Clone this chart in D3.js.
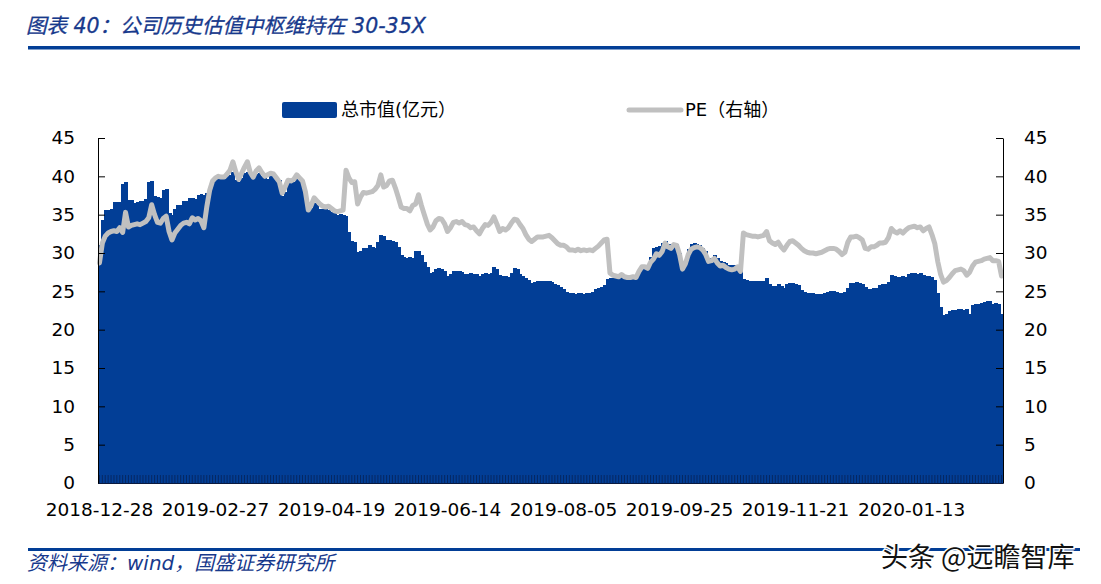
<!DOCTYPE html>
<html><head><meta charset="utf-8">
<script src="https://cdn.jsdelivr.net/npm/d3@7"></script>
<style>body{margin:0;background:#fff}svg{display:block}</style>
</head><body><svg id="c" width="1101" height="584"></svg>
<script>
const tickLabels = ["2018-12-28","2019-02-27","2019-04-19","2019-06-14","2019-08-05","2019-09-25","2019-11-21","2020-01-13"];
const tickEvery = 40;
const yTicks = [0,5,10,15,20,25,30,35,40,45];
const marketCap = [
31.0,34.3,35.6,35.6,35.8,36.6,36.7,36.7,39.0,39.2,
36.9,36.9,36.5,36.6,36.8,36.8,37.0,39.2,39.4,37.5,
37.3,37.2,38.2,38.3,35.2,35.0,35.8,36.2,36.3,36.8,
36.8,37.2,37.2,37.0,37.6,37.7,37.6,37.8,38.6,39.3,
39.5,39.6,39.8,39.7,40.0,40.2,40.6,39.5,39.2,39.8,
40.4,40.6,40.0,39.8,40.3,40.5,40.0,39.8,39.6,40.0,
40.2,39.9,39.5,37.5,38.0,39.0,39.2,39.3,39.8,39.6,
39.4,38.0,35.4,35.9,36.5,36.2,35.8,35.8,35.9,35.6,
35.4,35.2,35.0,35.1,35.0,34.8,32.8,31.6,31.4,30.1,
30.3,30.6,30.7,31.0,30.8,30.7,31.5,32.3,32.2,31.7,
31.7,31.6,31.4,30.8,29.8,29.5,29.4,29.5,29.3,30.2,
30.3,29.8,28.8,28.2,27.4,27.5,27.9,28.0,27.9,27.6,
27.0,27.3,27.6,27.7,27.6,27.5,27.2,27.3,27.4,27.2,
27.3,27.0,27.2,27.4,27.3,27.4,28.2,27.9,27.1,27.0,
27.0,26.9,27.4,28.0,27.9,27.3,27.0,26.8,26.5,26.1,
26.2,26.3,26.3,26.4,26.3,26.3,26.2,25.9,25.8,25.6,
25.3,24.9,24.8,24.8,24.7,24.8,24.8,24.7,24.8,24.8,
24.9,25.3,25.5,25.6,25.8,26.6,26.7,26.7,26.8,26.7,
26.9,27.0,27.0,27.1,27.0,27.2,27.8,28.2,28.3,28.2,
29.5,30.6,30.8,30.9,31.3,31.6,31.2,31.2,31.3,31.2,
30.0,28.5,29.0,30.5,31.2,31.3,31.2,31.1,30.7,30.2,
29.4,29.3,29.7,29.3,28.9,28.8,28.7,28.5,28.4,28.4,
28.5,28.4,26.6,26.5,26.4,26.3,26.4,26.3,26.3,26.4,
26.8,26.0,25.7,25.7,26.0,25.7,25.5,26.0,26.1,26.1,
26.0,25.8,25.2,24.9,24.8,24.8,24.8,24.7,24.7,24.7,
24.8,24.9,25.0,25.0,24.9,24.8,24.8,24.9,25.4,26.1,
26.1,26.2,26.1,26.0,25.6,25.3,25.3,25.4,25.5,25.8,
25.9,26.0,26.2,27.1,27.0,26.9,26.9,27.0,26.9,27.2,
27.4,27.4,27.3,27.4,27.1,27.0,27.0,26.9,26.5,24.8,
23.0,21.9,22.1,22.4,22.6,22.6,22.7,22.7,22.6,22.7,
22.1,23.2,23.3,23.4,23.5,23.6,23.8,23.7,23.4,23.5,23.3,22.0];
const pe = [
28.7,31.3,32.2,32.6,32.8,32.9,32.8,33.3,32.7,35.3,
33.4,33.6,33.7,33.8,33.7,33.9,34.1,34.6,36.3,35.0,
34.0,33.9,34.5,34.8,32.8,31.7,32.6,33.1,33.6,33.9,
34.0,33.8,34.6,34.3,34.5,34.2,33.3,36.0,38.2,39.4,
39.8,40.0,39.9,39.9,40.3,40.8,41.9,40.6,39.6,40.4,
41.2,41.9,40.5,39.9,40.7,41.1,40.5,40.0,40.2,40.4,
40.3,39.8,39.3,37.8,38.6,39.5,39.4,39.6,40.2,39.8,
39.4,38.0,35.6,36.2,37.2,36.8,36.4,36.1,36.0,36.1,
35.8,35.5,35.4,35.5,35.6,40.8,39.8,39.2,39.3,36.4,
37.3,37.9,37.8,37.9,38.0,38.3,38.8,40.2,38.6,38.8,
39.4,39.5,38.5,37.3,36.0,35.8,35.8,35.5,36.2,36.4,
37.6,36.2,35.0,33.8,33.0,33.4,34.2,34.5,34.4,33.8,
32.8,33.3,34.0,34.1,33.9,34.1,33.7,33.6,33.3,33.4,
32.9,32.5,33.2,33.7,33.6,34.0,34.7,33.8,32.8,33.2,
33.0,33.3,33.9,34.4,34.3,33.7,33.2,32.4,31.8,31.5,
31.8,32.1,32.1,32.1,32.2,32.3,32.0,31.6,31.2,31.0,
31.0,30.8,30.4,30.4,30.3,30.5,30.3,30.4,30.3,30.4,
30.3,30.6,30.9,31.3,31.7,31.8,27.4,27.1,27.0,26.9,
27.2,26.9,26.8,26.8,26.9,26.8,27.6,28.2,28.2,28.0,
28.8,29.2,29.9,29.7,30.2,31.3,30.8,30.6,31.1,31.0,
29.8,27.9,28.6,29.8,30.5,30.7,30.8,30.7,30.4,29.8,
28.9,29.0,29.3,28.7,28.3,28.4,28.1,27.9,27.8,27.9,
28.2,27.6,32.6,32.4,32.3,32.2,32.2,32.1,32.2,32.3,
32.8,31.6,31.3,31.1,31.4,30.8,30.4,31.0,31.5,31.6,
31.3,31.0,30.6,30.3,30.1,30.0,30.0,29.9,30.0,30.1,
30.3,30.5,30.6,30.6,30.5,30.2,29.8,30.1,31.4,32.1,
32.1,32.2,32.0,31.7,30.6,30.5,30.8,30.8,31.0,31.3,
31.3,31.4,32.0,33.2,32.8,32.6,32.9,32.6,33.0,33.3,
33.4,33.5,33.3,33.4,32.9,33.2,33.4,32.4,31.2,28.9,
27.2,26.2,26.4,26.8,27.3,27.7,27.8,27.9,27.7,27.1,
27.5,28.3,28.8,28.9,29.0,29.2,29.3,29.4,29.0,29.0,28.9,27.0];

const BLUE = "#023E96";
const GRAY = "#C0C0C0";
const NUMFONT = "'DejaVu Sans', Verdana, sans-serif";
const CJK = "'DejaVu Sans', 'Noto Sans CJK SC', sans-serif";

const svg = d3.select("#c");
const n = marketCap.length;
const L = 98, R = 1003, T = 138, B = 483;
const x = d3.scaleBand().domain(d3.range(n)).range([L, R]).padding(0);
const yL = d3.scaleLinear().domain([0, 45]).range([B, T]);
const yR = d3.scaleLinear().domain([0, 45]).range([B, T]);

// title
svg.append("text").attr("x", 26).attr("y", 33)
  .attr("font-family", CJK).attr("font-size", 20.5).attr("font-style", "italic")
  .attr("fill", "#17398C").attr("stroke", "#17398C").attr("stroke-width", 0.3)
  .text("图表 40：公司历史估值中枢维持在 30-35X");
svg.append("rect").attr("x", 28).attr("y", 46).attr("width", 1052).attr("height", 3.5).attr("fill", BLUE);

// bars
svg.append("g").attr("shape-rendering", "crispEdges")
  .selectAll("rect").data(marketCap).join("rect")
  .attr("x", (d, i) => x(i)).attr("width", (d, i) => i === n - 1 ? x.bandwidth() : x.bandwidth() + 1)
  .attr("y", d => yL(d)).attr("height", d => B - yL(d))
  .attr("fill", BLUE);

// PE line
const line = d3.line().x((d, i) => x(i) + x.bandwidth() / 2).y(d => yR(d)).curve(d3.curveLinear);
svg.append("path").datum(pe).attr("d", line)
  .attr("fill", "none").attr("stroke", GRAY).attr("stroke-width", 5)
  .attr("stroke-linejoin", "round").attr("stroke-linecap", "round");

// axes
const gl = svg.append("g").attr("transform", `translate(${L},0)`)
  .call(d3.axisLeft(yL).tickValues(yTicks).tickSize(-7).tickSizeOuter(0).tickPadding(23));
const gr = svg.append("g").attr("transform", `translate(${R},0)`)
  .call(d3.axisRight(yR).tickValues(yTicks).tickSize(-7).tickSizeOuter(0).tickPadding(21));
[gl, gr].forEach(g => {
  g.selectAll("text").attr("font-family", NUMFONT).attr("font-size", 18.5).attr("fill", "#000");
  g.selectAll("line,path").attr("stroke", "#000");
});
const gb = svg.append("g").attr("transform", `translate(0,${B})`)
  .call(d3.axisBottom(x).tickSize(-8).tickSizeOuter(0).tickFormat(""));
gb.selectAll("line").attr("stroke", "#0a1a40").attr("stroke-width", 0.8).attr("opacity", 0.75);
gb.select("path").attr("stroke", "#0a1a40");
const gbl = svg.append("g").attr("transform", `translate(0,${B})`)
  .call(d3.axisBottom(x).tickValues(tickLabels.map((d, i) => i * tickEvery))
    .tickFormat((d) => tickLabels[d / tickEvery]).tickSize(0).tickPadding(20));
gbl.select("path").remove();
gbl.selectAll("text").attr("font-family", NUMFONT).attr("font-size", 18.5).attr("fill", "#000");

// legend
svg.append("rect").attr("x", 282).attr("y", 102).attr("width", 55).attr("height", 16).attr("rx", 2).attr("fill", BLUE);
svg.append("text").attr("x", 341).attr("y", 116).attr("font-family", CJK).attr("font-size", 18)
  .attr("fill", "#000").text("总市值(亿元）");
svg.append("line").attr("x1", 629).attr("x2", 681).attr("y1", 110).attr("y2", 110)
  .attr("stroke", GRAY).attr("stroke-width", 5).attr("stroke-linecap", "round");
svg.append("text").attr("x", 685).attr("y", 116).attr("font-family", CJK).attr("font-size", 18)
  .attr("fill", "#000").text("PE（右轴）");

// footer
svg.append("rect").attr("x", 28).attr("y", 548).attr("width", 1052).attr("height", 3).attr("fill", BLUE);
svg.append("text").attr("x", 27).attr("y", 570)
  .attr("font-family", CJK).attr("font-size", 20).attr("font-style", "italic")
  .attr("fill", "#17398C").text("资料来源：wind，国盛证券研究所");
svg.append("text").attr("x", 881).attr("y", 567)
  .attr("font-family", "'Noto Sans CJK SC', sans-serif").attr("font-size", 27).attr("font-weight", 400)
  .attr("fill", "#111").attr("stroke", "#fff").attr("stroke-width", 3).attr("paint-order", "stroke")
  .text("头条 @远瞻智库");
</script></body></html>
